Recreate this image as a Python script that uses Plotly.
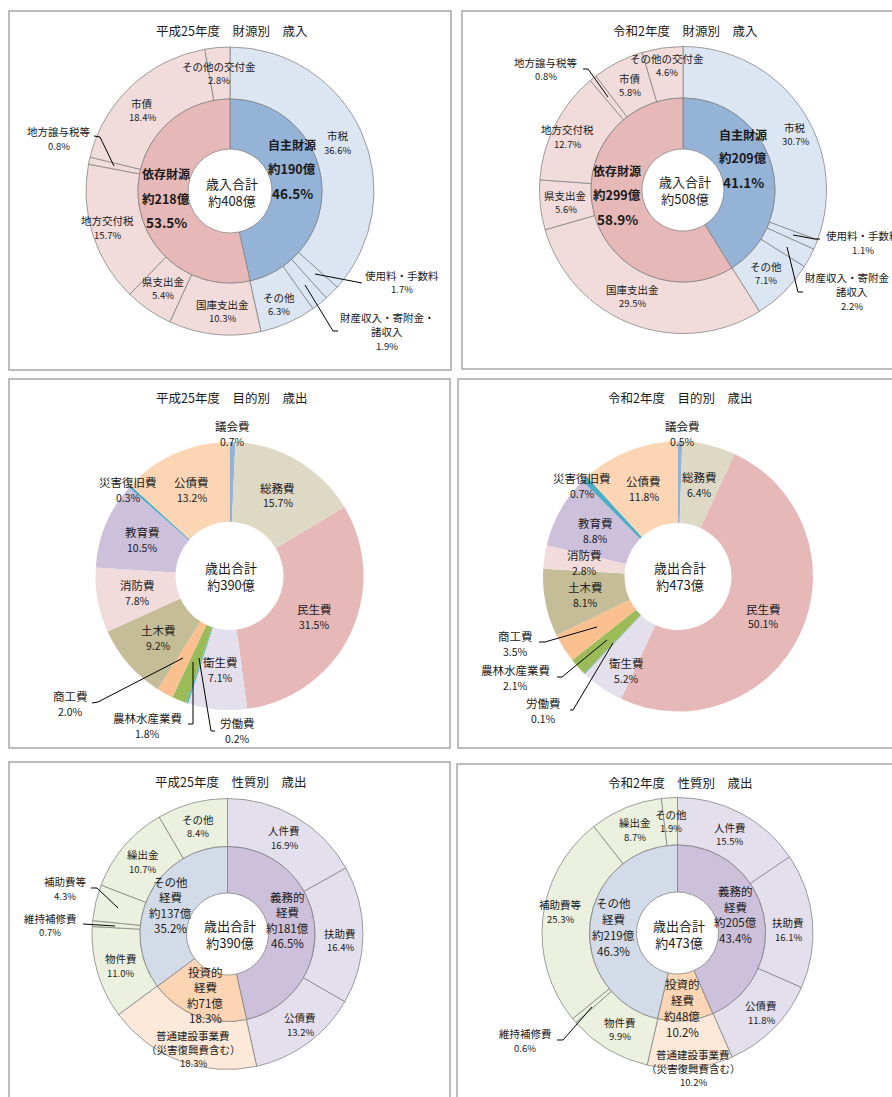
import math
import plotly.graph_objects as go

W, H = 892, 1097

# ---------------- DATA ----------------
REV_OUTER_LABELS = ["市税", "使用料・手数料", "財産収入・寄附金・<br>諸収入", "その他", "国庫支出金",
                    "県支出金", "地方交付税", "地方譲与税等", "市債", "その他の交付金"]
REV_H25_OUTER = [36.6, 1.7, 1.9, 6.3, 10.3, 5.4, 15.7, 0.8, 18.4, 2.8]
REV_R2_OUTER = [30.7, 1.1, 2.2, 7.1, 29.5, 5.6, 12.7, 0.8, 5.8, 4.6]
REV_INNER_LABELS = ["自主財源", "依存財源"]
REV_H25_INNER = [46.5, 53.5]
REV_H25_INNER_AMT = [190, 218]
REV_H25_TOTAL = 408
REV_R2_INNER = [41.1, 58.9]
REV_R2_INNER_AMT = [209, 299]
REV_R2_TOTAL = 508

PUR_LABELS = ["議会費", "総務費", "民生費", "衛生費", "労働費", "農林水産業費", "商工費",
              "土木費", "消防費", "教育費", "災害復旧費", "公債費"]
PUR_H25 = [0.7, 15.7, 31.5, 7.1, 0.2, 1.8, 2.0, 9.2, 7.8, 10.5, 0.3, 13.2]
PUR_H25_TOTAL = 390
PUR_R2 = [0.5, 6.4, 50.1, 5.2, 0.1, 2.1, 3.5, 8.1, 2.8, 8.8, 0.7, 11.8]
PUR_R2_TOTAL = 473

NAT_OUTER_LABELS = ["人件費", "扶助費", "公債費", "普通建設事業費<br>（災害復興費含む）", "物件費",
                    "維持補修費", "補助費等", "繰出金", "その他"]
NAT_H25_OUTER = [16.9, 16.4, 13.2, 18.3, 11.0, 0.7, 4.3, 10.7, 8.4]
NAT_R2_OUTER = [15.5, 16.1, 11.8, 10.2, 9.9, 0.6, 25.3, 8.7, 1.9]
NAT_INNER_LABELS = ["義務的<br>経費", "投資的<br>経費", "その他<br>経費"]
NAT_H25_INNER = [46.5, 18.3, 35.2]
NAT_H25_INNER_AMT = [181, 71, 137]
NAT_H25_TOTAL = 390
NAT_R2_INNER = [43.4, 10.2, 46.3]
NAT_R2_INNER_AMT = [205, 48, 219]
NAT_R2_TOTAL = 473

TITLES = ["平成25年度　財源別　歳入", "令和2年度　財源別　歳入",
          "平成25年度　目的別　歳出", "令和2年度　目的別　歳出",
          "平成25年度　性質別　歳出", "令和2年度　性質別　歳出"]

# ---------------- STYLE ----------------
FONT = "Noto Sans CJK JP, Noto Sans, sans-serif"
TXT = "#1a1a1a"
EDGE = dict(color="#7f7f7f", width=0.75)
NOEDGE = dict(color="rgba(0,0,0,0)", width=0)

REV_OUTER_COLORS = ["#DCE6F2"] * 4 + ["#F2DCDB"] * 6
REV_INNER_COLORS = ["#95B3D7", "#E6B9B8"]
PUR_COLORS = ["#95B3D7", "#DDD9C4", "#E6B9B8", "#E4DFEC", "#4BACC6", "#9BBB59", "#FAC090",
              "#C4BD97", "#F2DCDB", "#CCC0DA", "#4BACC6", "#FCD5B4"]
NAT_OUTER_COLORS = ["#E4DFEC"] * 3 + ["#FDE9D9"] + ["#EBF1DE"] * 5
NAT_INNER_COLORS = ["#CCC0DA", "#FCD5B4", "#D3DAE8"]

fig = go.Figure()
annotations = []
shapes = []


def px(x):
    return x / W


def py(y):
    return 1 - y / H


def dom(cx, cy, r):
    return dict(x=[px(cx - r), px(cx + r)], y=[py(cy + r), py(cy - r)])


def text(x, y, s, size, bold=False):
    if bold:
        s = "<b>" + s + "</b>"
    annotations.append(dict(x=px(x), y=py(y), xref="paper", yref="paper", text=s,
                            showarrow=False, xanchor="center", yanchor="middle",
                            borderpad=0,
                            font=dict(family=FONT, size=size, color=TXT)))


def block(x, yc, lines, sizes, spacing, bold=False):
    n = len(lines)
    for i, (s, sz) in enumerate(zip(lines, sizes)):
        text(x, yc + (i - (n - 1) / 2) * spacing, s, sz, bold)


def polyline(pts):
    path = "M " + " L ".join(f"{px(x):.5f},{py(y):.5f}" for x, y in pts)
    shapes.append(dict(type="path", path=path, xref="paper", yref="paper",
                       line=dict(color="#000000", width=1)))


def mids(values):
    tot = sum(values)
    out, c = [], 0
    for v in values:
        out.append((c + v / 2) / tot)
        c += v
    return out


def polar(cx, cy, r, frac):
    a = 2 * math.pi * frac
    return cx + r * math.sin(a), cy - r * math.cos(a)


def ring(values, labels, colors, cx, cy, r_out, r_in, line):
    fig.add_trace(go.Pie(values=values, labels=labels, marker=dict(colors=colors, line=line),
                         hole=r_in / r_out, domain=dom(cx, cy, r_out), sort=False,
                         direction="clockwise", rotation=0, textinfo="none",
                         hoverinfo="label+percent", showlegend=False))


def ring_labels(values, labels, cx, cy, r_out, r_in, size, psize, spacing,
                overrides=None, callouts=None):
    overrides = overrides or {}
    callouts = callouts or {}
    m = mids(values)
    for i, (v, lab) in enumerate(zip(values, labels)):
        lines = lab.split("<br>") + [f"{v:.1f}%"]
        sizes = [size] * (len(lines) - 1) + [psize]
        if i in callouts:
            (x, y), pts = callouts[i]
            if pts:
                polyline(pts)
        elif i in overrides:
            x, y = overrides[i]
        else:
            x, y = polar(cx, cy, (r_out + r_in) / 2, m[i])
        block(x, y, lines, sizes, spacing)


def center_text(x, y, lines, size):
    annotations.append(dict(x=px(x), y=py(y), xref="paper", yref="paper",
                            text="<br>".join(lines), showarrow=False,
                            xanchor="center", yanchor="middle", align="center",
                            borderpad=0, font=dict(family=FONT, size=size, color=TXT)))


def box(x0, y0, x1, y1):
    shapes.append(dict(type="rect", xref="paper", yref="paper", x0=px(x0), x1=px(x1),
                       y0=py(y1), y1=py(y0), line=dict(color="#A6A6A6", width=1.5),
                       fillcolor="rgba(0,0,0,0)", layer="below"))


# ---------------- PANEL BOXES & TITLES ----------------
box(9, 11, 451, 370)
box(462, 11, 905, 369)
box(9, 379, 450, 748)
box(458, 379, 905, 748)
box(9, 762, 450, 1110)
box(457, 764, 905, 1110)

for (tx, ty), t in zip([(232, 30), (685, 30), (232, 398), (680, 398), (230, 781), (680, 782)], TITLES):
    text(tx, ty, t, 12.5)

# ---------------- PANEL 1: H25 revenue ----------------
cx, cy = 230, 191
ring(REV_H25_OUTER, REV_OUTER_LABELS, REV_OUTER_COLORS, cx, cy, 144, 92, EDGE)
ring(REV_H25_INNER, REV_INNER_LABELS, REV_INNER_COLORS, cx, cy, 92, 42, EDGE)
ring_labels(REV_H25_OUTER, REV_OUTER_LABELS, cx, cy, 144, 92, 10.5, 9.5, 14,
            overrides={3: (279, 304), 4: (222, 311), 6: (107, 228), 8: (142, 110), 9: (219, 73)},
            callouts={1: ((402, 282), [(315, 274), (362, 283)]),
                      2: ((387, 331.5), [(305, 285), (333, 331), (338, 331)]),
                      7: ((59, 139), [(94, 136), (100, 137), (114, 166)])})
for (x, y), lab, v, a in zip([(292, 169), (166, 198)], REV_INNER_LABELS, REV_H25_INNER, REV_H25_INNER_AMT):
    block(x, y, [lab, f"約{a}億", f"{v:.1f}%"], [12, 12.5, 13.5], 24, bold=True)
center_text(232, 191.5, ["歳入合計", f"約{REV_H25_TOTAL}億"], 13)

# ---------------- PANEL 2: R2 revenue ----------------
cx, cy = 683, 190
ring(REV_R2_OUTER, REV_OUTER_LABELS, REV_OUTER_COLORS, cx, cy, 143.5, 92, EDGE)
ring(REV_R2_INNER, REV_INNER_LABELS, REV_INNER_COLORS, cx, cy, 92, 41, EDGE)
ring_labels(REV_R2_OUTER, REV_OUTER_LABELS, cx, cy, 143.5, 92, 10.5, 9.5, 14,
            overrides={0: (795, 134), 4: (632, 296), 6: (567, 137), 9: (667, 65)},
            callouts={1: ((863, 243), [(793, 235), (815, 239), (820, 239)]),
                      2: ((852, 291.5), [(787, 247), (798, 292), (803, 292)]),
                      7: ((546, 69.5), [(583, 69), (588, 69), (608, 97)])})
for (x, y), lab, v, a in zip([(743, 158), (617, 195)], REV_INNER_LABELS, REV_R2_INNER, REV_R2_INNER_AMT):
    block(x, y, [lab, f"約{a}億", f"{v:.1f}%"], [12, 12.5, 13.5], 24, bold=True)
center_text(685, 190.5, ["歳入合計", f"約{REV_R2_TOTAL}億"], 13)

# ---------------- PANEL 3: H25 purpose ----------------
cx, cy = 229.5, 576
ring(PUR_H25, PUR_LABELS, PUR_COLORS, cx, cy, 134, 54, NOEDGE)
ring_labels(PUR_H25, PUR_LABELS, cx, cy, 134, 54, 11.5, 10.5, 15.3,
            overrides={7: (158, 638), 8: (137, 593), 9: (142, 540)},
            callouts={0: ((233, 433.5), None),
                      10: ((128, 490), None),
                      4: ((237, 730.5), [(199, 658), (211, 731), (215, 731)]),
                      5: ((147, 725.5), [(188, 724), (193, 724), (193, 662)]),
                      6: ((70, 703.5), [(92, 703), (98, 702), (183, 658)])})
center_text(231, 576, ["歳出合計", f"約{PUR_H25_TOTAL}億"], 13)

# ---------------- PANEL 4: R2 purpose ----------------
cx, cy = 678, 576.5
ring(PUR_R2, PUR_LABELS, PUR_COLORS, cx, cy, 135, 53.5, NOEDGE)
ring_labels(PUR_R2, PUR_LABELS, cx, cy, 135, 53.5, 11.5, 10.5, 15.3,
            overrides={3: (626, 671)},
            callouts={0: ((682, 434), None),
                      10: ((582, 485.5), None),
                      4: ((543, 710.5), [(570, 710), (573, 710), (613, 643)]),
                      5: ((515, 678), [(557, 677), (562, 677), (607, 640)]),
                      6: ((515, 643.5), [(539, 642), (545, 642), (597, 627)])})
center_text(680, 576, ["歳出合計", f"約{PUR_R2_TOTAL}億"], 13)

# ---------------- PANEL 5: H25 nature ----------------
cx, cy = 227.5, 934
ring(NAT_H25_OUTER, NAT_OUTER_LABELS, NAT_OUTER_COLORS, cx, cy, 135.5, 87.5, EDGE)
ring(NAT_H25_INNER, NAT_INNER_LABELS, NAT_INNER_COLORS, cx, cy, 87.5, 41, EDGE)
ring_labels(NAT_H25_OUTER, NAT_OUTER_LABELS, cx, cy, 135.5, 87.5, 10.5, 9.5, 14,
            overrides={1: (340, 940), 2: (300, 1024.5), 3: (193, 1049)},
            callouts={5: ((50, 925), [(83, 924), (115, 926)]),
                      6: ((65, 888.5), [(91, 888), (97, 888), (118, 908)])})
for (x, y), lab, v, a in zip([(287, 920), (205, 995), (170, 905)], NAT_INNER_LABELS,
                             NAT_H25_INNER, NAT_H25_INNER_AMT):
    block(x, y, lab.split("<br>") + [f"約{a}億", f"{v:.1f}%"], [11.5] * 4, 15.4)
center_text(230, 933.5, ["歳出合計", f"約{NAT_H25_TOTAL}億"], 13)

# ---------------- PANEL 6: R2 nature ----------------
cx, cy = 677.5, 933
ring(NAT_R2_OUTER, NAT_OUTER_LABELS, NAT_OUTER_COLORS, cx, cy, 135.5, 88, EDGE)
ring(NAT_R2_INNER, NAT_INNER_LABELS, NAT_INNER_COLORS, cx, cy, 88, 41, EDGE)
ring_labels(NAT_R2_OUTER, NAT_OUTER_LABELS, cx, cy, 135.5, 88, 10.5, 9.5, 14,
            overrides={1: (788, 929.5), 2: (761, 1012.5), 3: (693, 1068), 6: (560, 911.5)},
            callouts={5: ((525, 1040.5), [(557, 1040), (563, 1040), (592, 1007)])})
for (x, y), lab, v, a in zip([(735, 914.5), (682, 1008), (613, 927)], NAT_INNER_LABELS,
                             NAT_R2_INNER, NAT_R2_INNER_AMT):
    block(x, y, lab.split("<br>") + [f"約{a}億", f"{v:.1f}%"], [11.5] * 4, 15.8)
center_text(679, 933.5, ["歳出合計", f"約{NAT_R2_TOTAL}億"], 13)

fig.update_layout(width=W, height=H, margin=dict(l=0, r=0, t=0, b=0),
                  paper_bgcolor="white", plot_bgcolor="white",
                  annotations=annotations, shapes=shapes,
                  font=dict(family=FONT, color=TXT))

fig.write_html("out.html")
